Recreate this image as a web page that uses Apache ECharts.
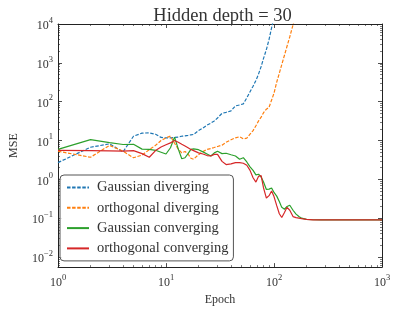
<!DOCTYPE html>
<html><head><meta charset="utf-8">
<script src="https://cdn.jsdelivr.net/npm/echarts@6/dist/echarts.min.js"></script>
<style>html,body{margin:0;padding:0;background:#fff}#c{width:396px;height:311px}</style>
</head><body><div id="c"></div>
<script>
const epochs = [1,2,3,4,5,6,7,8,9,10,11,12,13,14,15,16,17,18,20,22,24,26,28,30,33,36,40,44,48,52,56,60,64,68,72,76,80,85,90,95,100,106,112,118,125,132,140,150,160,170,180,200,230,270,330,400,500,650,800,1000];
const gaussianDiverging = [2.7,6.7,8.2,5.1,12.9,15.5,15.7,14.5,12,11.7, 11.7,12,12.3,12.9,13.2,13.6,14,14.3,18,21, 25,28,32,38,50,53,58,78,82,88, 125,180,250,350,520,800,1300,2200,4000,8000, 15000,30000,null,null,null,null,null,null,null,null, null,null,null,null,null,null,null,null,null,null];
const orthogonalDiverging = [5.3,3.7,7.5,5.3,3.6,4.2,5.8,7.5,10,11.7, 13,8.5,6,4.8,5.2,4.5,3.5,3.3,4.3,5.2, 5.9,6.2,6.6,7.0,7.6,9,10.5,11.7,12.5,11, 11.5,14.5,18,24,32,40,52,64,72,110, 165,320,540,900,1570,2670,4700,9500,18000,null, null,null,null,null,null,null,null,null,null,null];
const gaussianConverging = [5.9,10.5,8.8,7.9,8.0,6.0,5.9,5.6,5.0,4.5, 6.5,12.2,6,3.4,3.6,4.6,5.9,6.1,5.8,5.1, 4.5,4.0,4.8,5.3,4.6,4.7,4.3,4.0,3.3,3.6, 2.8,2.1,1.7,1.3,1.35,1.15,0.85,0.55,0.56,0.6, 0.46,0.37,0.27,0.19,0.17,0.2,0.215,0.16,0.127,0.11, 0.1,0.093,0.091,0.09,0.09,0.09,0.09,0.09,0.09,0.09];
const orthogonalConverging = [5.6,5.5,5.4,5.3,5.5,4.6,3.7,5.5,6.8,7.8, 8.7,10,9,8,7.2,6.5,5.9,5.5,4.8,4.5, 4.1,4.0,4.4,4.4,2.9,2.4,2.5,2.7,2.7,2.6, 2.3,1.7,1.1,0.85,1.2,1.25,0.6,0.33,0.38,0.5, 0.36,0.21,0.13,0.104,0.14,0.19,0.16,0.11,0.103,0.1, 0.097,0.093,0.09,0.09,0.09,0.09,0.09,0.09,0.09,0.09];
const seriesNames = ['Gaussian diverging','orthogonal diverging','Gaussian converging','orthogonal converging'];
const seriesColors = ['#1f77b4','#ff7f0e','#2ca02c','#d62728'];
const xTicks = [1,10,100,1000];
const yTicks = [0.01,0.1,1,10,100,1000,10000];
const xRange = [1,1000];
const yRange = [0.0055,10000];
const titleText = 'Hidden depth = 30';

const FONT = "'Liberation Serif','DejaVu Serif',serif";
const TXT = '#333';
function minorsFor(lo, hi){
  const out=[];
  for(let e=Math.floor(Math.log10(lo)); e<=Math.ceil(Math.log10(hi)); e++){
    for(let k=2;k<=9;k++){ const v=k*Math.pow(10,e); if(v>=lo&&v<=hi) out.push(+v.toPrecision(6)); }
  }
  return out;
}
function pow10Label(v){
  const e=Math.round(Math.log10(v));
  return '{b|10}{s|'+(e<0?'\u2212'+(-e):e)+'}';
}
const rich = {
  b:{fontSize:12,fontFamily:FONT,color:TXT,verticalAlign:'bottom',lineHeight:16},
  s:{fontSize:8.5,fontFamily:FONT,color:TXT,verticalAlign:'top',lineHeight:16}
};
function axisSet(dim, pos, range, majors, isMain){
  const minors = minorsFor(range[0], range[1]);
  const base = {type:'log', logBase:10, min:range[0], max:range[1], position:pos, gridIndex:0,
    splitLine:{show:false}, minorTick:{show:false}, minorSplitLine:{show:false}};
  const major = Object.assign({}, base, {
    axisLine:{show:true, onZero:false, lineStyle:{color:'#222',width:1}},
    axisTick:{show:true, inside:true, length:4, customValues:majors, lineStyle:{color:'#222',width:0.8}},
    axisLabel:{show:isMain, customValues:majors, formatter:pow10Label, rich:rich, margin: dim==='x'?6:5}
  });
  const minor = Object.assign({}, base, {
    axisLine:{show:false},
    axisTick:{show:true, inside:true, length:2, customValues:minors, lineStyle:{color:'#222',width:0.6}},
    axisLabel:{show:false}
  });
  if(isMain){
    if(dim==='x'){ Object.assign(major,{name:'Epoch', nameLocation:'middle', nameGap:23, nameTextStyle:{fontFamily:FONT,fontSize:12,color:TXT}}); }
    else { Object.assign(major,{name:'MSE', nameLocation:'middle', nameGap:38, nameTextStyle:{fontFamily:FONT,fontSize:12,color:TXT}}); }
  }
  return [major, minor];
}
const xAxes = [...axisSet('x','bottom',xRange,xTicks,true), ...axisSet('x','top',xRange,xTicks,false)];
const yAxes = [...axisSet('y','left',yRange,yTicks,true), ...axisSet('y','right',yRange,yTicks,false)];

const allValues = [gaussianDiverging, orthogonalDiverging, gaussianConverging, orthogonalConverging];
const series = allValues.map((vals,i)=>({
  name: seriesNames[i], type:'line', xAxisIndex:0, yAxisIndex:0,
  data: epochs.map((e,j)=>[e, vals[j]]).filter(p=>p[1]!=null),
  symbol:'none', showSymbol:false, clip:true, animation:false,
  lineStyle:{color:seriesColors[i], width:1.2, type: i<2 ? [3.5,1.6] : 'solid'},
  itemStyle:{color:seriesColors[i]}
}));

const chart = echarts.init(document.getElementById('c'), null, {renderer:'canvas'});
chart.setOption({
  animation:false,
  backgroundColor:'#fff',
  title:{text:titleText, left:217.5, textAlign:'center', top:2,
    textStyle:{fontFamily:FONT, fontSize:18.5, fontWeight:'normal', color:TXT}},
  grid:{left:53, right:14, top:24, bottom:43, containLabel:false},
  legend:{orient:'vertical', left:60, top:175, data:seriesNames,
    itemWidth:22, itemHeight:14, itemGap:5.3, padding:[5,5,5,6],
    itemStyle:{color:'rgba(0,0,0,0)', borderWidth:0, opacity:0},
    backgroundColor:'rgba(255,255,255,0.85)', borderColor:'#555', borderWidth:1, borderRadius:4,
    textStyle:{fontFamily:FONT, fontSize:14.5, color:TXT, padding:[0,0,0,3]}},
  xAxis:xAxes,
  yAxis:yAxes,
  series:series
});
</script></body></html>
